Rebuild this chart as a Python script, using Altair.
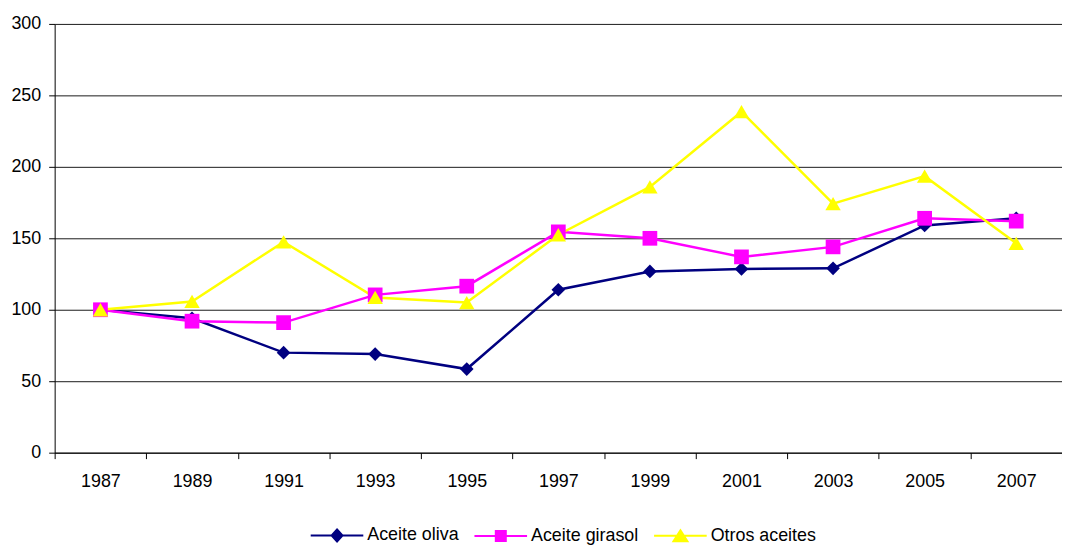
import altair as alt
import pandas as pd

years = ["1987", "1989", "1991", "1993", "1995", "1997", "1999", "2001", "2003", "2005", "2007"]
series = ["Aceite oliva", "Aceite girasol", "Otros aceites"]
aceite_oliva = [100, 94, 70, 69, 58.5, 114, 126.8, 128.5, 129, 159, 164]
aceite_girasol = [100, 92, 91, 110.4, 116.5, 154.5, 150, 137, 144, 164, 162]
otros_aceites = [100, 105.8, 147.5, 108.6, 105, 152.5, 186, 238.6, 174.3, 193.5, 146.5]
y_ticks = [0, 50, 100, 150, 200, 250, 300]

colors = ["#000080", "#FF00FF", "#FFFF00"]
shapes = ["diamond", "square", "triangle-up"]
sizes = [190, 220, 240]
# legend glyphs: a line with the marker in its middle (unit = 9px)
legend_shapes = [
    "M-4.89,0L1,0M-1.94,-0.67L-1.33,0L-1.94,0.67L-2.55,0Z",
    "M-4.89,0L1,0M-2.5,-0.56L-1.38,-0.56L-1.38,0.56L-2.5,0.56Z",
    "M-4.89,0L1,0M-1.94,-0.61L-1.16,0.61L-2.72,0.61Z",
]

rows = []
for name, vals in zip(series, [aceite_oliva, aceite_girasol, otros_aceites]):
    for yr, v in zip(years, vals):
        rows.append({"year": yr, "serie": name, "value": v})
df = pd.DataFrame(rows)

FONT = "Liberation Sans"

x_enc = alt.X(
    "year:N",
    sort=years,
    scale=alt.Scale(domain=years, paddingInner=0, paddingOuter=0),
    axis=alt.Axis(
        title=None, labelAngle=0, tickBand="extent", labelFont=FONT, labelFontSize=18,
        labelColor="black", tickColor="black", domainColor="black", tickSize=6,
        labelPadding=14, grid=False,
    ),
)
y_enc = alt.Y(
    "value:Q",
    scale=alt.Scale(domain=[0, 300], nice=False),
    axis=alt.Axis(
        title=None, values=y_ticks, labelFont=FONT, labelFontSize=18, labelColor="black",
        tickColor="black", domainColor="black", tickSize=6, labelPadding=8,
        grid=True, gridColor="#1a1a1a", gridWidth=1,
    ),
)

leg = alt.Legend(
    orient="none", legendX=292, legendY=505, direction="horizontal", title=None,
    labelFont=FONT, labelFontSize=18, labelColor="black", symbolSize=324,
    symbolStrokeWidth=2, labelOffset=3, columnPadding=10, padding=0,
)

color_scale = alt.Scale(domain=series, range=colors)

base = alt.Chart(df)

lines = base.mark_line(strokeWidth=2.5).encode(
    x=x_enc, y=y_enc,
    color=alt.Color("serie:N", scale=color_scale, legend=leg),
)

point_layers = []
for name, col, shp, sz in zip(series, colors, shapes, sizes):
    point_layers.append(
        base.transform_filter(alt.datum.serie == name)
        .mark_point(filled=True, opacity=1, shape=shp, size=sz, color=col)
        .encode(x=x_enc, y=y_enc)
    )

legend_layer = base.transform_filter("false").mark_point(filled=False, opacity=1, strokeWidth=2).encode(
    x=x_enc, y=y_enc,
    color=alt.Color("serie:N", scale=color_scale, legend=leg),
    fill=alt.Fill("serie:N", scale=alt.Scale(domain=series, range=colors), legend=leg),
    shape=alt.Shape("serie:N", scale=alt.Scale(domain=series, range=legend_shapes), legend=leg),
)

chart = (
    alt.layer(lines, *point_layers, legend_layer)
    .properties(
        width=1015, height=432,
        autosize=alt.AutoSizeParams(type="none"),
        padding={"left": 47, "top": 14, "right": 0, "bottom": 92},
        background="white",
    )
    .configure_view(stroke=None)
)

chart.save("out.html", embed_options={"renderer": "svg", "actions": False})
